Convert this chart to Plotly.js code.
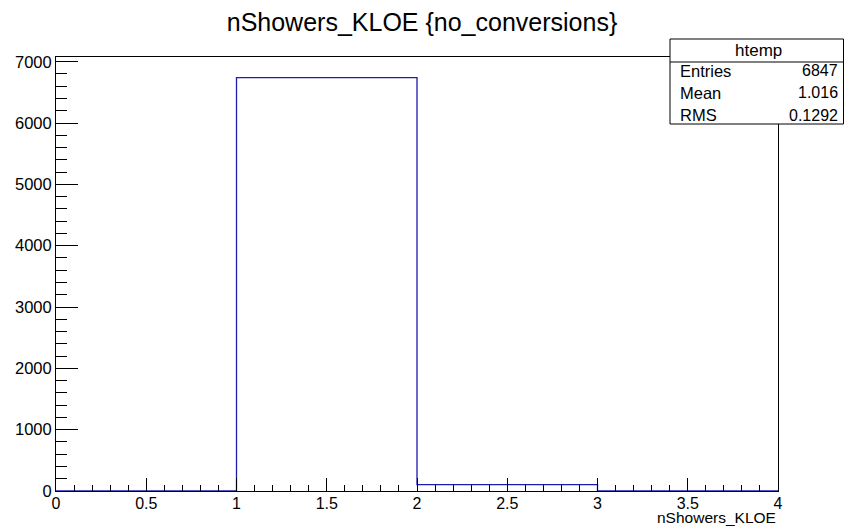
<!DOCTYPE html>
<html>
<head>
<meta charset="utf-8">
<script src="https://cdn.plot.ly/plotly-3.0.1.min.js"></script>
<style>
  html, body { margin: 0; padding: 0; background: #ffffff; }
  #chart { width: 844px; height: 528px; }
</style>
</head>
<body>
<div id="chart"></div>
<script>
// ---- data ----
const binEdges = [0, 1, 2, 3, 4];
const binCounts = [0, 6740, 104, 3];
const chartTitle = "nShowers_KLOE {no_conversions}";
const xAxisTitle = "nShowers_KLOE";
const statsName = "htemp";
const statLabels = ["Entries", "Mean", "RMS"];
const statValues = ["6847", "1.016", "0.1292"];

// ---- styling ----
const FONT = "Liberation Sans, Arial, Helvetica, sans-serif";
const lineBlue = "#1c1cae";
const yMax = Math.max(...binCounts) * 1.05;

const stepY = binCounts.concat([binCounts[binCounts.length - 1]]);

const trace = {
  type: "scatter",
  mode: "lines",
  x: binEdges,
  y: stepY,
  line: { shape: "hv", color: lineBlue, width: 1.3 },
  hoverinfo: "x+y",
  showlegend: false
};

const W = 844, H = 528;
const mL = 56, mR = 66, mT = 57, mB = 37;
function px2paperX(px) { return (px - mL) / (W - mL - mR); }
function px2paperY(py) { return (H - mB - py) / (H - mT - mB); }

// stats box geometry (pixels)
const boxL = 670, boxR = 843.5, boxT = 39, boxHdr = 62, boxB = 124;
const rowY = [71, 93, 115];

const shapes = [
  { type: "rect", xref: "paper", yref: "paper",
    x0: px2paperX(boxL), x1: px2paperX(boxR), y0: px2paperY(boxB), y1: px2paperY(boxT),
    line: { color: "#000", width: 1 }, fillcolor: "#ffffff", layer: "above" },
  { type: "line", xref: "paper", yref: "paper",
    x0: px2paperX(boxL), x1: px2paperX(boxR), y0: px2paperY(boxHdr), y1: px2paperY(boxHdr),
    line: { color: "#000", width: 1 }, layer: "above" }
];

const annotations = [
  { text: statsName, xref: "paper", yref: "paper", x: px2paperX(758), y: px2paperY(50),
    xanchor: "center", yanchor: "middle", showarrow: false, font: { family: FONT, size: 17, color: "#000" } },
  { text: xAxisTitle, xref: "paper", yref: "paper", x: 1, y: px2paperY(528),
    xanchor: "right", yanchor: "bottom", showarrow: false, font: { family: FONT, size: 15.5, color: "#000" } }
];
statLabels.forEach((lab, i) => {
  annotations.push({ text: lab, xref: "paper", yref: "paper", x: px2paperX(678), y: px2paperY(rowY[i]),
    xanchor: "left", yanchor: "middle", showarrow: false, font: { family: FONT, size: 16.5, color: "#000" } });
  annotations.push({ text: statValues[i], xref: "paper", yref: "paper", x: px2paperX(840), y: px2paperY(rowY[i]),
    xanchor: "right", yanchor: "middle", showarrow: false, font: { family: FONT, size: 16, color: "#000" } });
});

const layout = {
  width: W, height: H,
  margin: { l: mL, r: mR, t: mT, b: mB, pad: 0 },
  paper_bgcolor: "#ffffff",
  plot_bgcolor: "#ffffff",
  font: { family: FONT, color: "#000", size: 16 },
  title: { text: chartTitle, x: 0.5, xanchor: "center", y: 1 - 22 / H, yanchor: "middle",
           font: { family: FONT, size: 25, color: "#000" } },
  xaxis: {
    range: [binEdges[0], binEdges[binEdges.length - 1]],
    tick0: 0, dtick: 0.5,
    ticks: "inside", ticklen: 13, tickwidth: 1, tickcolor: "#000",
    minor: { dtick: 0.1, ticks: "inside", ticklen: 6.5, tickwidth: 1, tickcolor: "#000", showgrid: false },
    showgrid: false, zeroline: false,
    showline: true, mirror: true, linecolor: "#000", linewidth: 1,
    ticklabelstandoff: -2,
    tickfont: { family: FONT, size: 16, color: "#000" }
  },
  yaxis: {
    range: [0, yMax],
    tick0: 0, dtick: 1000,
    ticks: "inside", ticklen: 22, tickwidth: 1, tickcolor: "#000",
    minor: { dtick: 200, ticks: "inside", ticklen: 11, tickwidth: 1, tickcolor: "#000", showgrid: false },
    showgrid: false, zeroline: false,
    showline: true, mirror: true, linecolor: "#000", linewidth: 1,
    tickfont: { family: FONT, size: 16.5, color: "#000" }
  },
  shapes: shapes,
  annotations: annotations,
  showlegend: false
};

Plotly.newPlot("chart", [trace], layout, { displayModeBar: false, staticPlot: true });
</script>
</body>
</html>
